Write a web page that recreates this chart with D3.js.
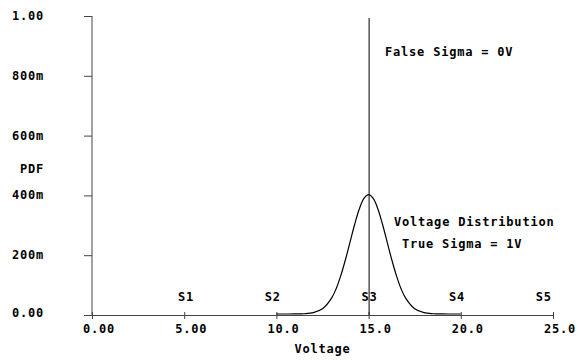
<!DOCTYPE html>
<html>
<head>
<meta charset="utf-8">
<script src="https://cdn.jsdelivr.net/npm/d3@7.9.0/dist/d3.min.js"></script>
<style>
  body { margin: 0; background: #fff; }
  text { font-family: "DejaVu Sans Mono", monospace; font-weight: bold; font-size: 12px; letter-spacing: 0.8px; fill: #000; }
</style>
</head>
<body>
<div id="chart"></div>
<script>
// voltage distribution
const voltage = [10, 10.5, 11, 11.5, 12, 12.5, 13, 13.25, 13.5, 13.75, 14, 14.25, 14.5, 14.75, 15,
                 15.25, 15.5, 15.75, 16, 16.25, 16.5, 16.75, 17, 17.5, 18, 18.5, 19, 19.5, 20];
const pdf = [0, 0, 0.0001, 0.0009, 0.0044, 0.0175, 0.054, 0.086, 0.130, 0.183, 0.242, 0.301, 0.352, 0.387, 0.399,
             0.387, 0.352, 0.301, 0.242, 0.183, 0.130, 0.086, 0.054, 0.0175, 0.0044, 0.0009, 0.0001, 0, 0];

const xTicks = [0, 5, 10, 15, 20, 25];
const xTickLabels = ["0.00", "5.00", "10.0", "15.0", "20.0", "25.0"];
const yTicks = [0, 0.2, 0.4, 0.6, 0.8, 1.0];
const yTickLabels = ["0.00", "200m", "400m", "600m", "800m", "1.00"];

const sampleNames = ["S1", "S2", "S3", "S4", "S5"];
const sampleX = [5.1, 9.8, 15.05, 19.8, 24.5];

const falseSigmaX = 15;

const width = 585, height = 360;
const x = d3.scaleLinear().domain([0, 25]).range([92, 553]);
const y = d3.scaleLinear().domain([0, 1]).range([315, 16]);

const svg = d3.select("#chart").append("svg")
  .attr("width", width)
  .attr("height", height);

const axisColor = "#444";

// y axis
svg.append("line")
  .attr("x1", x(0)).attr("x2", x(0))
  .attr("y1", y(1)).attr("y2", y(0))
  .attr("stroke", axisColor);

svg.append("g")
  .selectAll("line")
  .data(yTicks)
  .join("line")
    .attr("x1", x(0) - 8).attr("x2", x(0))
    .attr("y1", d => y(d) + 0.5).attr("y2", d => y(d) + 0.5)
    .attr("stroke", axisColor);

svg.append("g")
  .selectAll("text")
  .data(yTicks)
  .join("text")
    .attr("x", 12)
    .attr("y", (d, i) => y(d) + (i === 0 ? 2 : 4))
    .text((d, i) => yTickLabels[i]);

svg.append("text")
  .attr("x", 20)
  .attr("y", 173)
  .text("PDF");

// x axis
svg.append("line")
  .attr("x1", x(0) - 7).attr("x2", x(25))
  .attr("y1", y(0) + 0.5).attr("y2", y(0) + 0.5)
  .attr("stroke", axisColor);

svg.append("g")
  .selectAll("line")
  .data(xTicks)
  .join("line")
    .attr("x1", d => x(d) + 0.5).attr("x2", d => x(d) + 0.5)
    .attr("y1", y(0) - 3).attr("y2", y(0) + 4)
    .attr("stroke", axisColor);

svg.append("g")
  .selectAll("text")
  .data(xTicks)
  .join("text")
    .attr("x", d => x(d) - 9)
    .attr("y", 333)
    .text((d, i) => xTickLabels[i]);

svg.append("text")
  .attr("x", (x(0) + x(25)) / 2)
  .attr("y", 353)
  .attr("text-anchor", "middle")
  .text("Voltage");

// sample markers
svg.append("g")
  .selectAll("text")
  .data(sampleNames)
  .join("text")
    .attr("x", (d, i) => x(sampleX[i]))
    .attr("y", 301)
    .attr("text-anchor", "middle")
    .text(d => d);

// false sigma line
svg.append("line")
  .attr("x1", x(falseSigmaX) + 0.5).attr("x2", x(falseSigmaX) + 0.5)
  .attr("y1", y(0)).attr("y2", y(1) + 2)
  .attr("stroke", "#000");

// distribution curve
const line = d3.line()
  .x(d => x(d[0]))
  .y(d => y(d[1]) - 1)
  .curve(d3.curveCatmullRom);

svg.append("path")
  .datum(voltage.map((v, i) => [v, pdf[i]]))
  .attr("d", line)
  .attr("fill", "none")
  .attr("stroke", "#000")
  .attr("stroke-width", 1.2);

// annotations
svg.append("text").attr("x", 385).attr("y", 56).text("False Sigma = 0V");
svg.append("text").attr("x", 394).attr("y", 226).text("Voltage Distribution");
svg.append("text").attr("x", 402).attr("y", 248).text("True Sigma = 1V");
</script>
</body>
</html>
